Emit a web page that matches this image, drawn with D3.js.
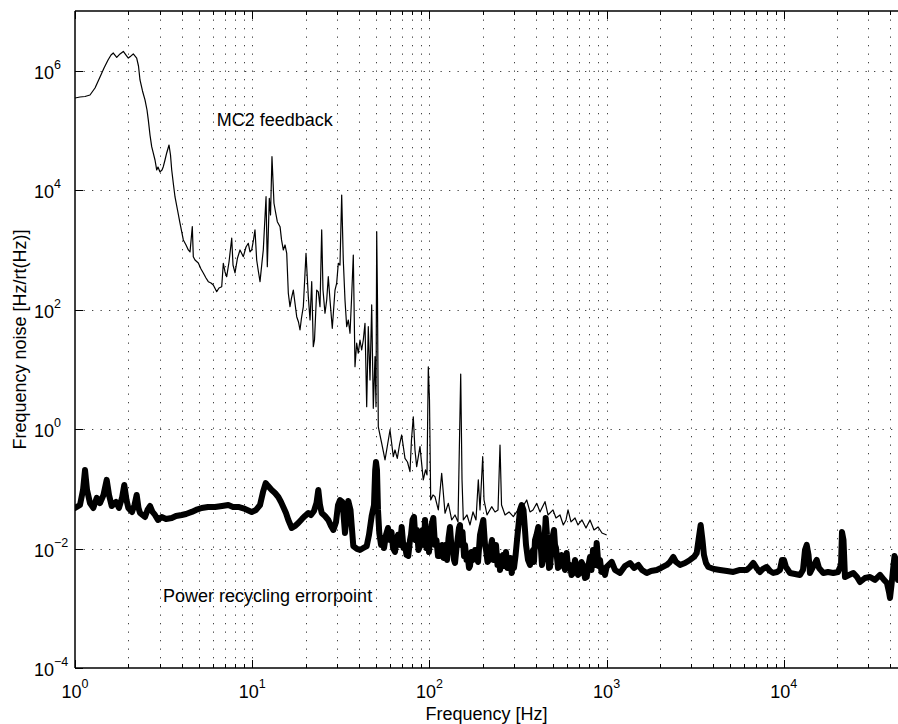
<!DOCTYPE html>
<html>
<head>
<meta charset="utf-8">
<script src="https://cdn.jsdelivr.net/npm/d3@7/dist/d3.min.js"></script>
<style>
  body { margin: 0; background: #fff; }
  svg { display: block; font-family: "Liberation Sans", Arial, Helvetica, sans-serif; }
</style>
</head>
<body>
<svg id="chart" width="898" height="724"></svg>
<script>
// MC2 feedback spectrum (thin trace), [frequency Hz, noise Hz/rtHz]
const mc2Points = [
  [1.0, 3.49e5], [1.067, 3.63e5], [1.139, 3.7e5], [1.215, 3.92e5], [1.297, 5.14e5], [1.384, 7.85e5], [1.458, 1.11e6], [1.536, 1.51e6],
  [1.597, 1.83e6], [1.645, 1.98e6], [1.72, 1.67e6], [1.795, 1.91e6], [1.874, 2.1e6], [1.941, 1.83e6], [1.999, 1.63e6], [2.07, 1.77e6],
  [2.133, 1.91e6], [2.229, 1.63e6], [2.282, 1.2e6], [2.327, 7.0e5], [2.404, 4.58e5], [2.483, 3.24e5], [2.549, 2.2e5], [2.592, 1.5e5],
  [2.65, 8.4e4], [2.709, 5.35e4], [2.773, 4.04e4], [2.828, 3.2e4], [2.891, 2.18e4], [2.94, 2.44e4], [3.018, 2.02e4], [3.097, 2.18e4],
  [3.15, 2.47e4], [3.22, 3.2e4], [3.292, 4.2e4], [3.393, 5.71e4], [3.459, 3.88e4], [3.514, 2.18e4], [3.597, 1.22e4], [3.668, 7.7e3],
  [3.789, 4.66e3], [3.913, 2.82e3], [4.086, 1.47e3], [4.232, 1.21e3], [4.36, 998], [4.457, 923], [4.592, 2.45e3], [4.652, 770],
  [4.756, 678], [4.965, 604], [5.142, 480], [5.297, 411], [5.487, 339], [5.654, 294], [5.855, 279], [6.033, 259],
  [6.305, 200], [6.496, 230], [6.728, 242], [6.87, 597], [7.023, 427], [7.18, 356], [7.398, 628], [7.663, 1.57e3],
  [7.793, 559], [7.998, 411], [8.262, 733], [8.535, 998], [8.91, 770], [9.226, 1.12e3], [9.506, 1.29e3], [9.718, 923],
  [9.936, 998], [10.17, 1.47e3], [10.37, 2.16e3], [10.6, 678], [10.85, 427], [11.07, 294], [11.36, 628], [11.55, 998],
  [11.97, 7.78e3], [12.17, 524], [12.49, 7.31e3], [12.69, 3.85e3], [12.93, 3.64e4], [13.27, 6.04e3], [13.54, 4.31e3], [13.86, 2.97e3],
  [14.36, 2.45e3], [14.64, 1.47e3], [14.98, 998], [15.32, 1.21e3], [15.66, 878], [15.99, 188], [16.34, 112], [16.67, 157],
  [17.06, 213], [17.83, 76.2], [18.25, 62.1], [18.61, 45.6], [18.97, 72.4], [19.43, 112], [20.12, 878], [20.73, 165],
  [21.2, 67.1], [21.67, 294], [22.12, 24.0], [22.47, 31.0], [23.12, 213], [23.61, 198], [24.13, 112], [24.67, 2.16e3],
  [25.09, 213], [25.75, 86.9], [26.33, 145], [26.88, 356], [27.48, 145], [28.31, 48.7], [29.33, 213], [29.98, 279],
  [30.61, 597], [31.29, 559], [31.99, 8.3e3], [32.66, 678], [33.39, 145], [34.14, 51.8], [34.86, 67.1], [35.64, 40.2],
  [36.34, 145], [37.2, 822], [38.03, 11.1], [38.86, 27.4], [39.68, 18.6], [40.57, 31.0], [41.47, 21.1], [42.36, 31.0],
  [43.3, 59.0], [44.27, 2.37], [45.2, 51.8], [46.21, 6.64], [47.24, 120], [48.24, 2.23], [49.32, 16.3], [49.96, 2.37],
  [50.42, 2.02e3], [50.94, 145], [51.47, 1.1], [52.14, 0.905], [53.81, 0.578], [56.17, 0.304], [58.02, 0.542], [59.94, 0.966],
  [62.56, 0.345], [63.96, 0.447], [65.89, 0.324], [67.8, 0.542], [69.76, 0.797], [72.82, 0.324], [75.22, 0.281], [77.7, 0.194],
  [79.22, 0.657], [81.1, 1.61], [82.91, 0.447], [84.76, 0.235], [88.47, 0.508], [92.35, 0.141], [95.06, 0.207], [96.92, 0.171],
  [98.58, 11.0], [100.1, 3.07], [101.7, 0.065], [104.8, 0.0789], [107.5, 0.0739], [112.3, 0.0443], [117.3, 0.182], [122.5, 0.039],
  [127.9, 0.0573], [133.6, 0.0301], [139.5, 0.0365], [145.0, 0.0279], [150.2, 8.37], [152.8, 0.141], [155.4, 0.0301], [163.0, 0.0365],
  [169.5, 0.0248], [176.2, 0.041], [183.2, 0.0301], [188.8, 0.141], [193.0, 0.0443], [199.9, 0.345], [203.3, 0.065], [211.4, 0.0365],
  [224.7, 0.0502], [234.6, 0.041], [243.9, 0.0443], [250.3, 0.542], [255.3, 0.0536], [267.2, 0.0365], [281.4, 0.041], [297.5, 0.0342],
  [316.2, 0.0443], [333.2, 0.0478], [354.1, 0.065], [369.6, 0.041], [384.3, 0.0443], [403.3, 0.0573], [420.9, 0.041], [449.2, 0.061],
  [467.0, 0.0365], [498.3, 0.0443], [518.1, 0.0325], [545.8, 0.0365], [569.7, 0.0248], [590.1, 0.0301], [605.6, 0.0443], [629.6, 0.0279],
  [663.3, 0.0325], [689.6, 0.0248], [726.3, 0.0301], [765.1, 0.0221], [806.0, 0.0301], [849.0, 0.0205], [894.3, 0.023], [941.9, 0.0182],
  [1001, 0.0169]
];

// Power recycling errorpoint spectrum (thick trace)
const prPoints = [
  [1.0, 0.0478], [1.067, 0.0536], [1.11, 0.0957], [1.139, 0.207], [1.169, 0.0957], [1.215, 0.0579], [1.268, 0.0478], [1.326, 0.0703],
  [1.384, 0.0579], [1.448, 0.0789], [1.51, 0.141], [1.556, 0.0789], [1.611, 0.0516], [1.704, 0.0602], [1.771, 0.0478], [1.842, 0.0703],
  [1.897, 0.116], [1.953, 0.065], [1.999, 0.0478], [2.097, 0.041], [2.167, 0.0536], [2.229, 0.0789], [2.282, 0.0478], [2.327, 0.0394],
  [2.483, 0.0338], [2.566, 0.0443], [2.65, 0.0516], [2.738, 0.041], [2.828, 0.0365], [2.94, 0.0301], [3.085, 0.0338], [3.263, 0.0313],
  [3.514, 0.0325], [3.715, 0.0351], [4.001, 0.0365], [4.232, 0.0379], [4.556, 0.041], [4.818, 0.0443], [5.188, 0.0478], [5.63, 0.0497],
  [6.167, 0.0497], [6.754, 0.0516], [7.331, 0.0536], [7.793, 0.0497], [8.35, 0.0497], [9.107, 0.046], [9.936, 0.041], [10.51, 0.0443],
  [11.07, 0.0536], [11.51, 0.0886], [11.92, 0.125], [12.28, 0.112], [12.88, 0.0957], [13.45, 0.0852], [14.04, 0.073], [14.54, 0.0602],
  [14.98, 0.0497], [15.51, 0.0394], [15.99, 0.0301], [16.71, 0.0221], [17.44, 0.0239], [18.2, 0.0268], [19.1, 0.0313], [19.86, 0.0351],
  [20.73, 0.0394], [21.47, 0.0365], [22.32, 0.0426], [23.06, 0.0579], [23.61, 0.0957], [24.13, 0.0536], [24.67, 0.0394], [25.75, 0.0351],
  [26.88, 0.0301], [27.85, 0.0239], [28.7, 0.0205], [29.72, 0.0279], [30.5, 0.0536], [31.29, 0.065], [32.33, 0.0602], [33.39, 0.0182],
  [34.86, 0.0625], [35.87, 0.0443], [37.2, 0.011], [39.02, 0.00984], [40.57, 0.00946], [42.36, 0.0102], [44.27, 0.011], [45.61, 0.0169],
  [47.24, 0.0351], [48.68, 0.0536], [49.44, 0.207], [49.96, 0.281], [50.6, 0.207], [51.27, 0.0443], [52.14, 0.0182], [53.33, 0.0115],
  [54.37, 0.015], [55.44, 0.0102], [56.9, 0.0169], [58.39, 0.0221], [59.94, 0.0139], [61.12, 0.0189], [62.33, 0.0102], [63.96, 0.00877],
  [65.21, 0.0139], [66.5, 0.0169], [68.26, 0.0115], [69.76, 0.023], [71.43, 0.0102], [72.82, 0.0115], [74.26, 0.0078], [76.01, 0.00751],
  [77.7, 0.0139], [78.74, 0.0169], [80.28, 0.0301], [81.86, 0.0338], [83.46, 0.0139], [85.11, 0.0205], [86.79, 0.00946], [88.47, 0.011],
  [90.24, 0.015], [91.45, 0.0205], [93.22, 0.0115], [94.46, 0.0301], [96.3, 0.0102], [97.57, 0.0205], [99.47, 0.00877], [100.8, 0.0139],
  [102.8, 0.0248], [105.2, 0.0325], [107.5, 0.0115], [109.6, 0.0139], [111.8, 0.00751], [114.8, 0.00751], [117.8, 0.0115], [120.1, 0.00695],
  [122.5, 0.0115], [125.7, 0.00644], [128.2, 0.015], [130.7, 0.023], [133.3, 0.0102], [135.0, 0.0115], [137.7, 0.00644], [139.5, 0.00573],
  [142.2, 0.0102], [144.1, 0.0139], [146.9, 0.0221], [148.8, 0.0248], [150.8, 0.0115], [153.8, 0.0189], [156.8, 0.00751], [158.8, 0.0115],
  [162.0, 0.00644], [164.1, 0.0078], [167.3, 0.00473], [169.5, 0.00511], [172.8, 0.00877], [176.2, 0.00644], [180.9, 0.00946], [184.9, 0.00751],
  [188.1, 0.00596], [193.0, 0.0169], [196.8, 0.0221], [201.5, 0.0301], [206.0, 0.0115], [208.7, 0.00946], [212.8, 0.00596], [216.9, 0.00644],
  [221.2, 0.0102], [225.6, 0.0139], [230.0, 0.00644], [234.6, 0.00695], [237.6, 0.0115], [242.3, 0.00531], [247.1, 0.00751], [250.3, 0.00438],
  [255.3, 0.00644], [260.3, 0.0078], [265.4, 0.00511], [270.5, 0.00877], [275.9, 0.00473], [281.4, 0.00531], [286.9, 0.00695], [291.3, 0.0039],
  [296.4, 0.00596], [300.2, 0.00473], [306.2, 0.00751], [312.2, 0.0139], [318.3, 0.0248], [324.6, 0.0443], [331.8, 0.0536], [339.6, 0.0443],
  [346.3, 0.0205], [350.9, 0.0115], [360.1, 0.00644], [369.6, 0.00531], [376.9, 0.0078], [384.3, 0.00946], [389.3, 0.00596], [394.4, 0.0139],
  [402.2, 0.0169], [411.7, 0.023], [420.9, 0.0115], [426.5, 0.00946], [431.9, 0.00531], [437.7, 0.00644], [446.1, 0.0139], [453.3, 0.0325],
  [460.8, 0.0169], [467.0, 0.0115], [473.1, 0.00473], [479.3, 0.00491], [485.6, 0.0078], [492.0, 0.0115], [498.3, 0.0169], [504.9, 0.0205],
  [511.4, 0.0115], [518.1, 0.0102], [531.8, 0.00473], [545.8, 0.00511], [556.6, 0.0078], [567.5, 0.00644], [582.4, 0.00438], [595.5, 0.00843],
  [605.5, 0.00473], [621.5, 0.00531], [633.8, 0.00361], [648.6, 0.0039], [663.3, 0.00644], [672.1, 0.00531], [689.6, 0.00361], [707.6, 0.0039],
  [721.8, 0.00596], [735.8, 0.00531], [755.3, 0.00321], [772.2, 0.00334], [790.3, 0.00531], [806.0, 0.00723], [821.8, 0.00438], [838.0, 0.00946],
  [860.2, 0.00531], [879.3, 0.0124], [900.1, 0.00511], [917.8, 0.00644], [935.8, 0.00405], [954.3, 0.00473], [979.3, 0.00361], [1001, 0.00491],
  [1069, 0.00596], [1115, 0.00438], [1190, 0.0039], [1270, 0.00511], [1355, 0.00573], [1428, 0.00473], [1510, 0.00531], [1584, 0.00438],
  [1684, 0.0039], [1781, 0.00421], [1917, 0.00438], [2028, 0.00473], [2184, 0.00531], [2280, 0.00596], [2379, 0.00723], [2464, 0.00596],
  [2595, 0.00531], [2770, 0.00573], [2956, 0.00644], [3114, 0.00723], [3225, 0.00843], [3302, 0.0139], [3396, 0.0248], [3476, 0.0139],
  [3544, 0.0078], [3638, 0.00573], [3749, 0.00491], [4037, 0.00455], [4364, 0.00438], [4779, 0.00421], [5188, 0.00405], [5659, 0.00438],
  [6176, 0.00438], [6446, 0.00491], [6729, 0.00573], [7015, 0.00473], [7338, 0.00405], [7630, 0.00455], [8008, 0.00491], [8358, 0.00421],
  [8725, 0.0039], [9155, 0.00405], [9517, 0.00438], [9768, 0.00644], [10025, 0.00644], [10290, 0.00491], [10840, 0.0039], [11570, 0.00375],
  [12340, 0.00361], [12830, 0.00438], [13170, 0.00946], [13470, 0.0115], [13790, 0.0078], [14050, 0.0039], [14800, 0.00531], [15330, 0.00644],
  [15800, 0.00473], [16710, 0.0039], [17760, 0.00405], [19020, 0.0039], [20220, 0.00405], [21030, 0.00531], [21300, 0.0189], [21720, 0.0139],
  [22140, 0.00334], [23330, 0.00361], [24680, 0.0039], [25890, 0.00334], [26920, 0.00275], [28720, 0.00321], [30650, 0.00334], [32700, 0.00298],
  [34910, 0.00361], [36770, 0.00298], [38220, 0.00265], [39230, 0.00187], [39750, 0.00149], [40530, 0.00245], [41330, 0.00438], [42140, 0.00751],
  [42970, 0.00644], [44100, 0.00298]
];

// axis ticks and labels
const xDecades = [1, 10, 100, 1000, 10000];
const xMinorSteps = [2, 3, 4, 5, 6, 7, 8, 9];
const yLabelled = [1e-4, 1e-2, 1, 1e2, 1e4, 1e6];
const xTitle = "Frequency [Hz]";
const yTitle = "Frequency noise [Hz/rt(Hz)]";
// text annotations placed in data coordinates
const annotations = [
  { text: "MC2 feedback", f: 6.3, v: 1.19e5 },
  { text: "Power recycling errorpoint", f: 3.14, v: 1.27e-3 }
];

const margin = { top: 11, right: 0, bottom: 56, left: 75 };
const W = 898, H = 724;
const plotW = W - margin.left - margin.right;
const plotH = H - margin.top - margin.bottom;

const svg = d3.select("#chart");
const g = svg.append("g").attr("transform", `translate(${margin.left},${margin.top})`);

const x = d3.scaleLog().domain([1, 44100]).range([0, plotW]);
const y = d3.scaleLog().domain([1e-4, 1e7]).range([plotH, 0]);

// all tick positions on x (decades + 2..9 in between)
const xTicksAll = [];
xDecades.forEach(d => {
  xTicksAll.push({ f: d, major: true });
  xMinorSteps.forEach(k => { if (d * k <= 44100) xTicksAll.push({ f: d * k, major: false }); });
});

// dotted grid
const grid = g.append("g").attr("class", "grid")
  .attr("stroke", "#444").attr("stroke-width", 1).attr("stroke-dasharray", "1.3,7.2");
grid.selectAll("line.vx")
  .data(xTicksAll.filter(t => t.f > 1))
  .enter().append("line")
  .attr("class", "vx")
  .attr("x1", d => Math.round(x(d.f)) + 0.5).attr("x2", d => Math.round(x(d.f)) + 0.5)
  .attr("y1", 0).attr("y2", plotH);
grid.selectAll("line.hy")
  .data(yLabelled.filter(v => v > 1e-4))
  .enter().append("line")
  .attr("class", "hy")
  .attr("x1", 0).attr("x2", plotW)
  .attr("y1", d => Math.round(y(d)) + 0.5).attr("y2", d => Math.round(y(d)) + 0.5);

// traces
g.append("clipPath").attr("id", "plotClip")
  .append("rect").attr("width", plotW).attr("height", plotH);

const line = d3.line()
  .x(d => x(d[0]))
  .y(d => y(d[1]));

g.append("path")
  .datum(mc2Points)
  .attr("clip-path", "url(#plotClip)")
  .attr("d", line)
  .attr("fill", "none")
  .attr("stroke", "#000")
  .attr("stroke-width", 1.2)
  .attr("stroke-linejoin", "round");

g.append("path")
  .datum(prPoints)
  .attr("clip-path", "url(#plotClip)")
  .attr("d", line)
  .attr("fill", "none")
  .attr("stroke", "#000")
  .attr("stroke-width", 6)
  .attr("stroke-linejoin", "round")
  .attr("stroke-linecap", "round");

// axes box (left, bottom, top)
const frame = g.append("g").attr("stroke", "#000").attr("stroke-width", 1.5);
frame.append("line").attr("x1", 0).attr("x2", 0).attr("y1", 0).attr("y2", plotH);
frame.append("line").attr("x1", 0).attr("x2", plotW).attr("y1", plotH).attr("y2", plotH);
frame.append("line").attr("x1", 0).attr("x2", plotW).attr("y1", 0).attr("y2", 0);

// tick marks
const ticks = g.append("g").attr("stroke", "#000").attr("stroke-width", 1);
xTicksAll.forEach(t => {
  const px = Math.round(x(t.f)) + 0.5;
  const len = t.major ? 8 : 4;
  ticks.append("line").attr("x1", px).attr("x2", px).attr("y1", plotH).attr("y2", plotH - len);
  ticks.append("line").attr("x1", px).attr("x2", px).attr("y1", 0).attr("y2", len);
});
yLabelled.forEach(v => {
  const py = Math.round(y(v)) + 0.5;
  ticks.append("line").attr("x1", 0).attr("x2", 8).attr("y1", py).attr("y2", py);
});

// tick labels as 10^n
function expLabel(sel, v) {
  const n = Math.round(Math.log10(v));
  sel.append("tspan").text("10");
  sel.append("tspan")
    .attr("dy", -10)
    .attr("font-size", 12.5)
    .text(n < 0 ? "\u2212" + (-n) : String(n));
}

g.selectAll("text.xt")
  .data(xDecades)
  .enter().append("text")
  .attr("class", "xt")
  .attr("x", d => x(d))
  .attr("y", plotH + 30)
  .attr("text-anchor", "middle")
  .attr("font-size", 18)
  .each(function(d) { expLabel(d3.select(this), d); });

g.selectAll("text.yt")
  .data(yLabelled)
  .enter().append("text")
  .attr("class", "yt")
  .attr("x", 34 - margin.left)
  .attr("y", d => y(d) + 8)
  .attr("font-size", 18)
  .each(function(d) { expLabel(d3.select(this), d); });

// axis titles
svg.append("text")
  .attr("x", margin.left + plotW / 2)
  .attr("y", 720)
  .attr("text-anchor", "middle")
  .attr("font-size", 18)
  .text(xTitle);

svg.append("text")
  .attr("transform", `translate(26,${margin.top + plotH / 2}) rotate(-90)`)
  .attr("text-anchor", "middle")
  .attr("font-size", 18)
  .text(yTitle);

// annotations
g.selectAll("text.note")
  .data(annotations)
  .enter().append("text")
  .attr("class", "note")
  .attr("x", d => x(d.f))
  .attr("y", d => y(d.v))
  .attr("font-size", 18)
  .text(d => d.text);
</script>
</body>
</html>
